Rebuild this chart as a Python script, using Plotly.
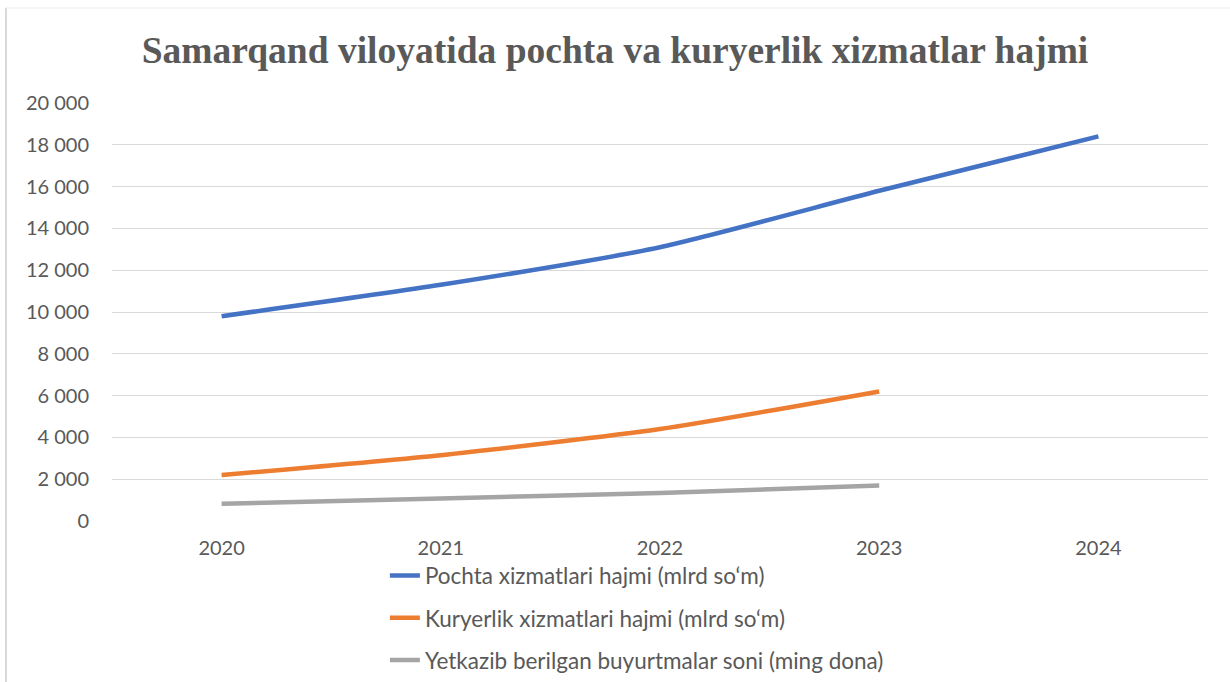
import plotly.graph_objects as go

years = ["2020", "2021", "2022", "2023", "2024"]
pochta = [9800, 11300, 13100, 15800, 18400]
kuryer = [2200, 3150, 4400, 6200, None]
buyurtma = [820, 1080, 1340, 1700, None]

names = [
    "Pochta xizmatlari hajmi (mlrd so‘m)",
    "Kuryerlik xizmatlari hajmi (mlrd so‘m)",
    "Yetkazib berilgan buyurtmalar soni (ming dona)",
]
colors = ["#4472C4", "#ED7D31", "#A5A5A5"]
series = [pochta, kuryer, buyurtma]

FONT = "Lato"
fig = go.Figure()
for i, (nm, vals, col) in enumerate(zip(names, series, colors)):
    fig.add_trace(go.Scatter(
        x=years, y=vals, name=nm, mode="lines",
        line=dict(color=col, width=4.5, shape="spline", smoothing=0.6),
        legendgroup=str(i),
    ))

fig.update_layout(
    width=1230, height=682,
    margin=dict(l=112, r=22, t=103, b=161, autoexpand=False),
    paper_bgcolor="white", plot_bgcolor="white",
    separators=". ",
    title=dict(
        text="<b>Samarqand viloyatida pochta va kuryerlik xizmatlar hajmi</b>",
        font=dict(family="Liberation Serif", size=37.5, color="#595959"),
        x=0.5, xanchor="center", y=0.927, yanchor="middle",
    ),
    font=dict(family=FONT, size=20, color="#595959"),
    showlegend=True,
    legend=dict(
        x=0.249, xanchor="left", y=-0.080, yanchor="top",
        orientation="v", tracegroupgap=10,
        font=dict(family=FONT, size=22.5, color="#595959"),
        bgcolor="rgba(0,0,0,0)",
    ),
    xaxis=dict(
        type="category", range=[-0.5, 4.5],
        showgrid=False, showline=False, zeroline=False,
        ticks="", ticklabelstandoff=13,
        tickfont=dict(family=FONT, size=20, color="#595959"),
    ),
    yaxis=dict(
        range=[0, 20000], dtick=2000, tickformat=",d",
        showgrid=True, gridcolor="#D9D9D9", gridwidth=1.3,
        zeroline=False, showline=False, ticks="",
        ticklabelstandoff=22,
        tickfont=dict(family=FONT, size=20, color="#595959"),
    ),
)

# chart area border (left and top edges visible)
fig.add_shape(type="line", xref="paper", yref="paper",
              x0=(6 - 112) / 1096, x1=(6 - 112) / 1096,
              y0=(521 - 682) / 418, y1=(521 - 8) / 418,
              line=dict(color="#D9D9D9", width=2))
fig.add_shape(type="line", xref="paper", yref="paper",
              x0=(6 - 112) / 1096, x1=(1230 - 112) / 1096,
              y0=(521 - 8) / 418, y1=(521 - 8) / 418,
              line=dict(color="#F2F2F2", width=1.5))

fig.write_html("out.html", config={"displayModeBar": False},
               post_script="document.body.style.margin='0';")
